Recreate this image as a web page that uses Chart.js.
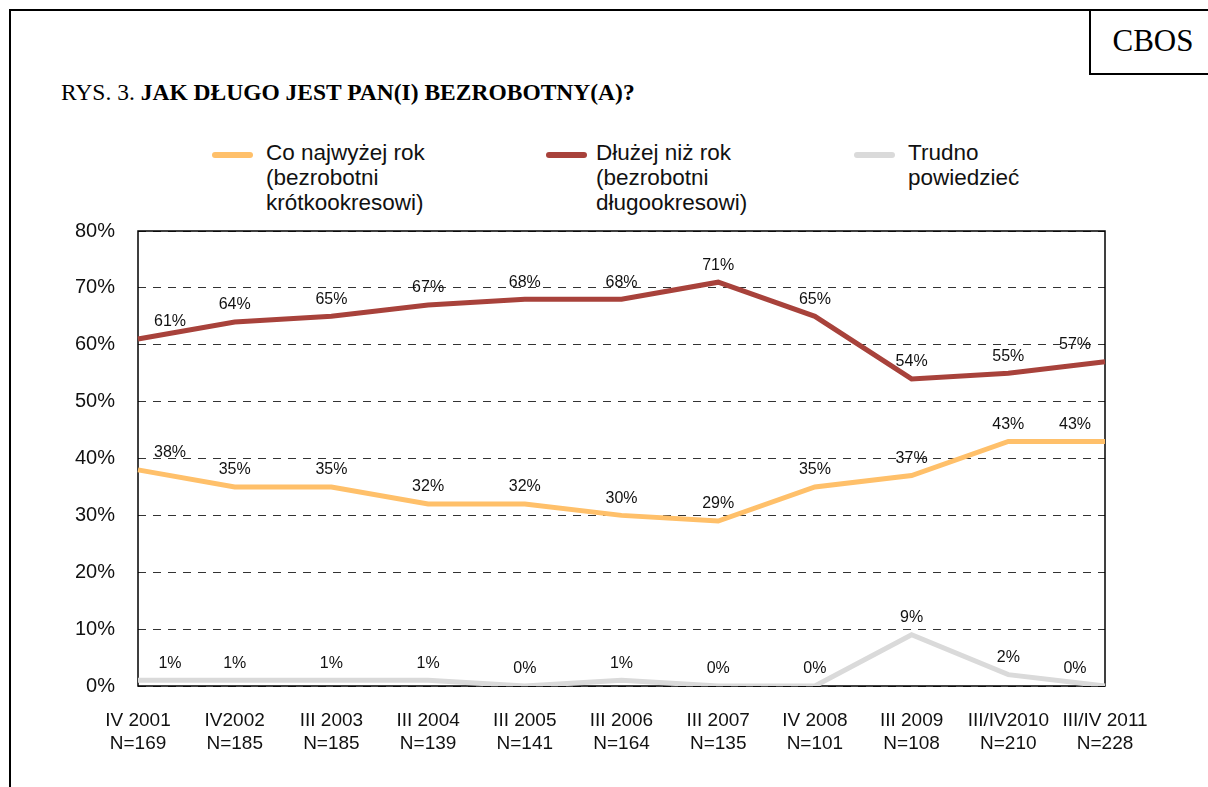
<!DOCTYPE html>
<html>
<head>
<meta charset="utf-8">
<script src="https://cdn.jsdelivr.net/npm/chart.js@4.4.0/dist/chart.umd.min.js"></script>
<style>
  body { margin: 0; background: #fff; }
  #page { position: relative; width: 1208px; height: 787px; overflow: hidden; background: #fff; }
  .ln { position: absolute; background: #000; }
  #cbos { position: absolute; left: 1094px; top: 10px; width: 118px; height: 62px;
    font: 31px "Liberation Serif", "Times New Roman", serif; line-height: 62px; text-align: center; color: #000; }
  #title { position: absolute; left: 61px; top: 78px; font: 23.5px "Liberation Serif", "Times New Roman", serif; line-height: 28px; color: #000; white-space: nowrap; }
  .leg { position: absolute; font: 22.5px "Liberation Sans", Arial, sans-serif; line-height: 25px; color: #111; }
  .sw { position: absolute; width: 41px; height: 6px; border-radius: 3px; }
  canvas { position: absolute; left: 0; top: 0; }
</style>
</head>
<body>
<div id="page">
  <div class="ln" style="left:9px;top:9px;width:2px;height:778px"></div>
  <div class="ln" style="left:9px;top:9px;width:1199px;height:2px"></div>
  <div class="ln" style="left:1089px;top:9px;width:2px;height:66px"></div>
  <div class="ln" style="left:1089px;top:73px;width:119px;height:2px"></div>
  <div id="cbos">CBOS</div>
  <div id="title">RYS. 3. <b>JAK DŁUGO JEST PAN(I) BEZROBOTNY(A)?</b></div>

  <div class="sw" style="left:212px;top:152px;background:#FFC06A"></div>
  <div class="leg" style="left:266px;top:140px">Co najwyżej rok<br>(bezrobotni<br>krótkookresowi)</div>
  <div class="sw" style="left:546px;top:152px;background:#A8423B"></div>
  <div class="leg" style="left:596px;top:140px">Dłużej niż rok<br>(bezrobotni<br>długookresowi)</div>
  <div class="sw" style="left:854px;top:152px;background:#DADADA"></div>
  <div class="leg" style="left:908px;top:140px">Trudno<br>powiedzieć</div>

  <canvas id="ChartCanvas" width="1208" height="787"></canvas>
</div>
<script>
// etykiety osi X (fala badania + liczebność)
const waves = [
	["IV 2001", "N=169"], ["IV2002", "N=185"], ["III 2003", "N=185"], ["III 2004", "N=139"],
	["III 2005", "N=141"], ["III 2006", "N=164"], ["III 2007", "N=135"], ["IV 2008", "N=101"],
	["III 2009", "N=108"], ["III/IV2010", "N=210"], ["III/IV 2011", "N=228"]
];
const shortTerm = [38, 35, 35, 32, 32, 30, 29, 35, 37, 43, 43];
const longTerm = [61, 64, 65, 67, 68, 68, 71, 65, 54, 55, 57];
const dontKnow = [1, 1, 1, 1, 0, 1, 0, 0, 9, 2, 0];
const yTicks = [0, 10, 20, 30, 40, 50, 60, 70, 80];

const frame = {
	id: 'frame',
	beforeDatasetsDraw(chart) {
		const a = chart.chartArea, c = chart.ctx;
		c.save();
		c.strokeStyle = '#000';
		c.lineWidth = 1.5;
		c.strokeRect(a.left, a.top, a.right - a.left, a.bottom - a.top);
		c.restore();
	}
};

const valueLabels = {
	id: 'valueLabels',
	afterDatasetsDraw(chart) {
		const c = chart.ctx;
		c.save();
		c.font = '16px "Liberation Sans", Arial, sans-serif';
		c.fillStyle = '#111';
		c.textAlign = 'center';
		c.textBaseline = 'middle';
		chart.data.datasets.forEach(function (ds, i) {
			chart.getDatasetMeta(i).data.forEach(function (pt, j) {
				let x = pt.x;
				if (j === 0) x += 32;
				if (j === ds.data.length - 1) x -= 30;
				c.fillText(ds.data[j] + '%', x, pt.y - 17);
			});
		});
		c.restore();
	}
};

var ctx = document.getElementById('ChartCanvas').getContext('2d');
var chart = new Chart(ctx, {
	type: 'line',
	data: {
		labels: waves,
		datasets: [{
			label: 'Trudno powiedzieć',
			borderColor: '#DADADA',
			data: dontKnow,
			order: 3
		}, {
			label: 'Co najwyżej rok',
			borderColor: '#FFC06A',
			data: shortTerm,
			order: 2
		}, {
			label: 'Dłużej niż rok',
			borderColor: '#A8423B',
			data: longTerm,
			order: 1
		}]
	},
	options: {
		responsive: false,
		animation: false,
		devicePixelRatio: 1,
		layout: { padding: { left: 0, top: 231, right: 103, bottom: 0 } },
		elements: {
			line: { borderWidth: 5, tension: 0, borderCapStyle: 'butt', borderJoinStyle: 'miter', fill: false },
			point: { radius: 0, hoverRadius: 0 }
		},
		plugins: {
			legend: { display: false },
			tooltip: { enabled: false }
		},
		scales: {
			x: {
				offset: false,
				grid: { display: false },
				border: { display: false },
				ticks: {
					autoSkip: false, maxRotation: 0, padding: 16, color: '#111',
					font: { family: '"Liberation Sans", Arial, sans-serif', size: 19, lineHeight: 1.17 }
				},
				afterFit(s) { s.height = 101; }
			},
			y: {
				min: 0, max: 80,
				afterBuildTicks(s) { s.ticks = yTicks.map(function (v) { return { value: v }; }); },
				grid: { color: '#333', lineWidth: 1, drawTicks: false },
				border: { display: false, dash: [8, 7] },
				ticks: {
					padding: 23, color: '#111',
					font: { family: '"Liberation Sans", Arial, sans-serif', size: 20 },
					callback: function (v) { return v + '%'; }
				},
				afterFit(s) { s.width = 138; }
			}
		}
	},
	plugins: [frame, valueLabels]
});
</script>
</body>
</html>
